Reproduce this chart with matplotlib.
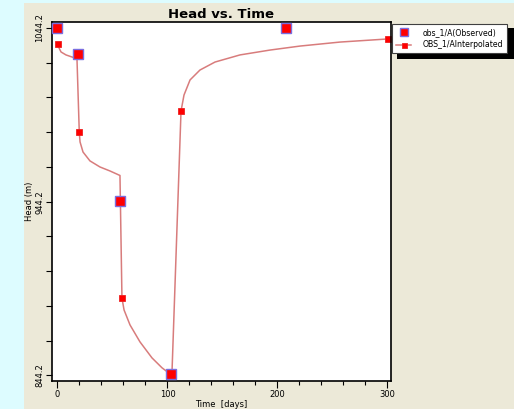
import matplotlib.pyplot as plt
from matplotlib.patches import Rectangle
from matplotlib.ticker import FixedLocator, MultipleLocator

# observed heads
OBS_TIME = [0.0, 18.4, 56.8, 103.2, 207.7]
OBS_HEAD = [1044.2, 1029.4, 944.6, 845.0, 1044.2]

# interpolated head curve (traced points), markers sit on some of them
INTERP_TIME = [0.8, 1.4, 3.2, 7.7, 13.2, 17.7, 19.8, 20.5, 23.2, 29.5, 38.6,
               47.7, 56.8, 58.6, 60.5, 65.9, 75.0, 85.9, 95.0, 102.3, 104.1,
               112.3, 115.0, 120.5, 129.5, 143.2, 165.9, 193.2, 220.5, 256.8,
               300.5]
INTERP_HEAD = [1034.8, 1032.7, 1030.4, 1028.7, 1027.5, 1026.6, 984.2, 978.6,
               972.8, 967.7, 964.2, 961.9, 959.3, 888.8, 881.9, 873.3, 863.5,
               854.3, 848.6, 845.1, 846.2, 996.4, 1005.6, 1014.3, 1020.0,
               1024.6, 1028.7, 1031.5, 1033.8, 1036.1, 1037.9]
INTERP_MARKS = [0, 6, 13, 21, 30]

Y_LABELED = [844.2, 944.2, 1044.2]

fig = plt.figure(figsize=(5.14, 4.09), dpi=100, facecolor='#ece9d8')

# window frame strips
fig.patches.append(Rectangle((0, 0), 24 / 514, 1, transform=fig.transFigure,
                             facecolor='#ddfcff', edgecolor='none', zorder=0))
fig.patches.append(Rectangle((0, 1 - 3 / 409), 1, 3 / 409, transform=fig.transFigure,
                             facecolor='#ddfcff', edgecolor='none', zorder=0))

ax = fig.add_axes([52 / 514, 1 - 381 / 409, 339 / 514, 359 / 409])
ax.set_facecolor('white')

ax.plot(INTERP_TIME, INTERP_HEAD, color='#d87c7c', lw=1.1, marker='s',
        markevery=INTERP_MARKS, markersize=4.5, markerfacecolor='#ff0000',
        markeredgecolor='#ee2020', markeredgewidth=0.6,
        label='OBS_1/AInterpolated', zorder=2)
ax.plot(OBS_TIME, OBS_HEAD, linestyle='none', marker='s', markersize=6.5,
        markerfacecolor='#ff0000', markeredgecolor='#7a6ee0', markeredgewidth=1.0,
        label='obs_1/A(Observed)', zorder=3, clip_on=False)

ax.set_xlim(-5.0, 303.2)
ax.set_ylim(841.0, 1047.65)

ax.xaxis.set_major_locator(FixedLocator([0, 100, 200, 300]))
ax.xaxis.set_minor_locator(MultipleLocator(20))
ax.yaxis.set_major_locator(FixedLocator(Y_LABELED))
ax.yaxis.set_minor_locator(FixedLocator([844.2 + 20 * i for i in range(11)]))
ax.set_yticklabels(['844.2', '944.2', '1044.2'], rotation=90, va='center')

ax.tick_params(axis='both', which='both', direction='out', labelsize=6,
               color='black', width=0.8)
ax.tick_params(axis='x', which='major', length=5, pad=1.5)
ax.tick_params(axis='x', which='minor', length=3)
ax.tick_params(axis='y', which='both', length=4, pad=1.5)

for s in ax.spines.values():
    s.set_linewidth(1.2)
    s.set_color('black')

ax.set_title('Head vs. Time', fontsize=9.5, fontweight='bold', pad=3)
ax.set_xlabel('Time  [days]', fontsize=6, labelpad=1)
ax.set_ylabel('Head (m)', fontsize=6, labelpad=1)

# legend with a solid drop shadow
fig.patches.append(Rectangle((397 / 514, 1 - 59 / 409), 117 / 514, 31 / 409,
                             transform=fig.transFigure, facecolor='black',
                             edgecolor='none', zorder=4))
h, l = ax.get_legend_handles_labels()
leg = fig.legend(h[::-1], l[::-1], loc='upper left',
                 bbox_to_anchor=(392 / 514, 1 - 24 / 409), borderaxespad=0,
                 prop={'size': 5.6}, frameon=True, fancybox=False, framealpha=1,
                 handlelength=2.0, handletextpad=1.4, borderpad=0.5,
                 labelspacing=0.45, markerscale=0.8)
leg.get_frame().set_edgecolor('#404040')
leg.get_frame().set_linewidth(0.8)
leg.set_zorder(5)

fig.savefig('out.png', dpi=100, facecolor=fig.get_facecolor())
